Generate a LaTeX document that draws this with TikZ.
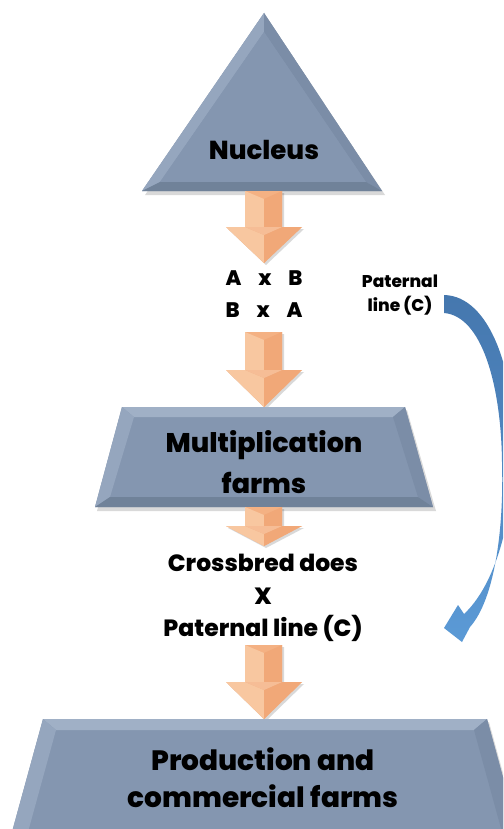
\documentclass[tikz,border=0pt]{standalone}
\usepackage{fontspec}
\setmainfont{Poppins}[BoldFont={Poppins ExtraBold}]
\usetikzlibrary{calc}
\definecolor{slate}{HTML}{8496B0}
\definecolor{slateL}{HTML}{95A6BE}
\definecolor{slateLL}{HTML}{A0B0C6}
\definecolor{slateD}{HTML}{7B8DA7}
\definecolor{slateDD}{HTML}{708299}
\definecolor{peach}{HTML}{F4B183}
\definecolor{peachL}{HTML}{F8C7A0}
\definecolor{peachD}{HTML}{F1A878}
\definecolor{arrowblueA}{HTML}{4577AE}
\definecolor{arrowblueB}{HTML}{5B9AD6}
\tikzset{
  x=1pt, y=-1pt,
  lbl/.style={font=\bfseries, text=black, align=center, inner sep=0pt},
  shadowfill/.style={fill=black, opacity=0.15},
}
% block arrow: #1 top y, #2 head start y, #3 tip y
\newcommand{\blockarrow}[3]{%
  \fill[shadowfill] (247,#1+2) -- (284,#1+2) -- (284,#2+2) -- (304,#2+2) -- (266,#3+2) -- (228,#2+2) -- (247,#2+2) -- cycle;
  \fill[peach] (245,#1) -- (282,#1) -- (282,#2) -- (302,#2) -- (264,#3) -- (226,#2) -- (245,#2) -- cycle;
  \fill[peachL] (245,#1) -- (264,#1+8) -- (264,#2) -- (245,#2) -- cycle;
  \fill[peachD] (282,#1) -- (264,#1+8) -- (264,#2) -- (282,#2) -- cycle;
  \fill[peachL] (226,#2) -- (245,#2) -- (264,#2+8) -- (264,#3) -- cycle;
  \fill[peachD] (302,#2) -- (282,#2) -- (264,#2+8) -- (264,#3) -- cycle;
  \fill[peach!85!white] (245,#2) -- (282,#2) -- (264,#2+8) -- cycle;
}
\begin{document}
\begin{tikzpicture}
\useasboundingbox (0,0) rectangle (503,829);
\fill[white] (0,0) rectangle (503,829);
\clip (0,0) rectangle (503,829);

% ---------- Nucleus triangle ----------
\fill[shadowfill] (266,16) -- (385,195) -- (145,195) -- cycle;
\fill[slate] (264,13) -- (382,191) -- (142,191) -- cycle;
\fill[slateL] (264,13) -- (142,191) -- (160,182) -- (264,32) -- cycle;
\fill[slateD] (264,13) -- (382,191) -- (366,182) -- (264,32) -- cycle;
\fill[slateDD] (142,191) -- (382,191) -- (366,182) -- (160,182) -- cycle;
\fill[slate] (264,32) -- (366,182) -- (160,182) -- cycle;
\node[lbl, font=\bfseries\fontsize{26}{30}\selectfont] (nucleus) at (264,150) {Nucleus};

% ---------- arrows 1, 2 ----------
\blockarrow{191}{227}{263}
\node[lbl, font=\bfseries\fontsize{21}{32}\selectfont] (axb) at (264,278) {A\hspace{0.8em}x\hspace{0.8em}B};
\node[lbl, font=\bfseries\fontsize{21}{32}\selectfont] (bxa) at (264,310) {B\hspace{0.8em}x\hspace{0.8em}A};
\node[lbl, font=\bfseries\fontsize{17}{24}\selectfont] (pat) at (400,295) {Paternal\\line (C)};
\blockarrow{332}{370}{407}

% ---------- Multiplication trapezoid ----------
\fill[shadowfill] (124,410) -- (407,410) -- (436,511) -- (97,511) -- cycle;
\fill[slate] (122,407) -- (405,407) -- (433,507) -- (95,507) -- cycle;
\fill[slateLL] (122,407) -- (405,407) -- (393,417) -- (134,417) -- cycle;
\fill[slateL] (122,407) -- (134,417) -- (110,497) -- (95,507) -- cycle;
\fill[slateD] (405,407) -- (393,417) -- (418,497) -- (433,507) -- cycle;
\fill[slateDD] (95,507) -- (110,497) -- (418,497) -- (433,507) -- cycle;
\node[lbl, font=\bfseries\fontsize{27}{41}\selectfont] (mult) at (264,462) {Multiplication\\farms};

% ---------- arrow 3 ----------
\blockarrow{507}{526}{546}
\node[lbl, font=\bfseries\fontsize{23.5}{32.5}\selectfont] (cross) at (263,598) {Crossbred does\\X\\Paternal line (C)};

% ---------- arrow 4 ----------
\blockarrow{645}{682}{719}

% ---------- Production trapezoid ----------
\fill[shadowfill] (45,722) -- (489,722) -- (520,835) -- (14,835) -- cycle;
\fill[slate] (43,719) -- (487,719) -- (518,832) -- (12,832) -- cycle;
\fill[slateLL] (43,719) -- (487,719) -- (474,730) -- (56,730) -- cycle;
\fill[slateL] (43,719) -- (56,730) -- (28,832) -- (12,832) -- cycle;
\fill[slateD] (487,719) -- (474,730) -- (502,832) -- (518,832) -- cycle;
\node[lbl, font=\bfseries\fontsize{28}{37}\selectfont] (prod) at (263,778) {Production and\\commercial farms};

% ---------- curved blue arrow ----------
\coordinate (tailT) at (444,295);
\coordinate (tailB) at (444,313);
\coordinate (tip) at (444,628);
\shade[top color=arrowblueA, bottom color=arrowblueB]
  (tailT) .. controls (490,296) and (516,372) .. (514,455)
          .. controls (512,530) and (492,588) .. (464,614)
  -- (458,605) -- (tip) -- (462,642) -- (470,627)
          .. controls (494,600) and (504,532) .. (502,462)
          .. controls (501,385) and (482,316) .. (tailB) -- cycle;
\end{tikzpicture}
\end{document}
